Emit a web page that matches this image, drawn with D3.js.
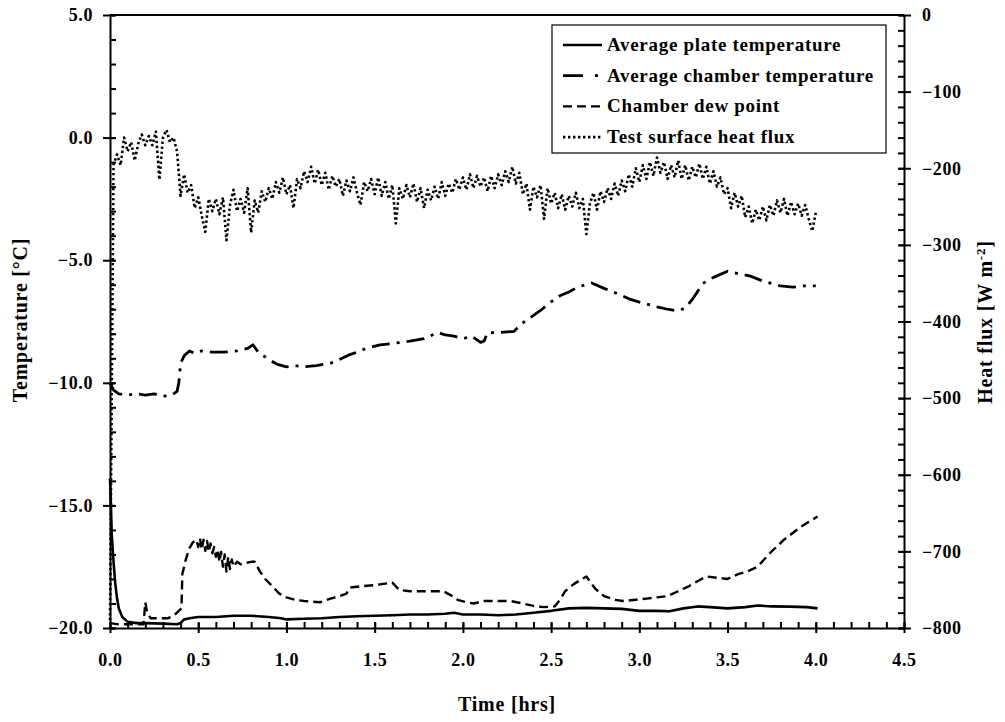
<!DOCTYPE html>
<html>
<head>
<meta charset="utf-8">
<script src="https://cdn.jsdelivr.net/npm/d3@7"></script>
<style>
  html, body { margin: 0; padding: 0; background: #fff; }
  svg text { font-family: "Liberation Serif", "Times New Roman", serif; font-weight: bold; fill: #000; }
</style>
</head>
<body>
<svg id="chart" width="1005" height="722"></svg>
<script>
// Plate temperature [°C] : [time hrs, value]
const plateTemp = [
  [0, -13.9], [0.005, -15.0], [0.01, -16.2], [0.02, -17.3], [0.03, -18.2], [0.04, -18.8],
  [0.05, -19.2], [0.07, -19.55], [0.1, -19.75], [0.15, -19.8], [0.2, -19.8], [0.3, -19.82],
  [0.38, -19.85], [0.4, -19.8], [0.42, -19.65], [0.45, -19.6], [0.5, -19.55], [0.6, -19.55],
  [0.7, -19.5], [0.8, -19.5], [0.9, -19.55], [0.97, -19.6], [1.0, -19.65], [1.1, -19.62],
  [1.2, -19.6], [1.3, -19.55], [1.4, -19.52], [1.5, -19.5], [1.6, -19.48], [1.7, -19.45],
  [1.8, -19.45], [1.9, -19.42], [1.95, -19.38], [2.0, -19.45], [2.1, -19.45], [2.2, -19.48],
  [2.3, -19.45], [2.4, -19.38], [2.5, -19.3], [2.6, -19.2], [2.7, -19.18], [2.8, -19.2],
  [2.9, -19.22], [3.0, -19.3], [3.1, -19.3], [3.17, -19.32], [3.25, -19.2], [3.33, -19.12],
  [3.4, -19.15], [3.5, -19.2], [3.6, -19.15], [3.67, -19.08], [3.75, -19.12], [3.85, -19.13],
  [3.95, -19.15], [4.01, -19.2]
];

// Chamber air temperature [°C]
const chamberTemp = [
  [0, -10.0], [0.02, -10.3], [0.05, -10.45], [0.1, -10.5], [0.15, -10.45], [0.2, -10.5],
  [0.25, -10.45], [0.3, -10.55], [0.35, -10.5], [0.38, -10.35], [0.39, -10.0], [0.40, -9.2],
  [0.42, -8.9], [0.45, -8.7], [0.48, -8.8], [0.52, -8.7], [0.58, -8.75], [0.65, -8.75],
  [0.72, -8.7], [0.78, -8.6], [0.81, -8.45], [0.84, -8.75], [0.9, -9.05], [0.95, -9.25],
  [1.0, -9.35], [1.05, -9.3], [1.1, -9.35], [1.17, -9.3], [1.25, -9.2], [1.3, -9.05],
  [1.36, -8.85], [1.4, -8.75], [1.45, -8.6], [1.53, -8.45], [1.6, -8.4], [1.7, -8.3],
  [1.78, -8.2], [1.86, -7.95], [1.9, -8.05], [1.95, -8.1], [2.0, -8.2], [2.05, -8.1],
  [2.1, -8.35], [2.12, -8.3], [2.14, -7.95], [2.2, -7.95], [2.29, -7.9], [2.33, -7.6],
  [2.38, -7.35], [2.44, -7.05], [2.5, -6.7], [2.55, -6.45], [2.6, -6.3], [2.65, -6.1],
  [2.73, -5.93], [2.8, -6.15], [2.87, -6.35], [2.95, -6.6], [3.02, -6.75], [3.1, -6.9],
  [3.16, -7.0], [3.22, -7.07], [3.26, -6.95], [3.3, -6.6], [3.36, -5.95], [3.42, -5.7],
  [3.5, -5.45], [3.56, -5.55], [3.63, -5.65], [3.7, -5.85], [3.8, -6.05], [3.87, -6.1],
  [3.93, -6.05], [4.0, -6.05]
];

// Chamber dew point [°C]
const dewPoint = [
  [0, -19.8], [0.05, -19.85], [0.1, -19.85], [0.19, -19.85], [0.2, -18.95], [0.21, -19.35],
  [0.23, -19.6], [0.28, -19.6], [0.33, -19.6], [0.36, -19.5], [0.39, -19.3], [0.405, -19.2],
  [0.41, -17.8], [0.43, -17.2], [0.45, -16.75], [0.47, -16.5], [0.49, -16.4], [0.5, -16.7],
  [0.51, -16.35], [0.52, -16.8], [0.53, -16.4], [0.54, -16.85], [0.55, -16.45], [0.56, -16.9],
  [0.57, -16.55], [0.58, -16.95], [0.59, -16.7], [0.6, -17.1], [0.61, -16.8], [0.62, -17.3],
  [0.63, -16.9], [0.64, -17.5], [0.65, -17.0], [0.66, -17.7], [0.67, -17.1], [0.68, -17.6],
  [0.69, -17.2], [0.7, -17.5], [0.72, -17.3], [0.74, -17.4], [0.77, -17.35], [0.8, -17.3],
  [0.82, -17.3], [0.85, -17.7], [0.88, -18.0], [0.92, -18.3], [0.96, -18.6], [1.0, -18.75],
  [1.05, -18.85], [1.1, -18.9], [1.19, -18.95], [1.25, -18.8], [1.3, -18.7], [1.34, -18.6],
  [1.36, -18.35], [1.42, -18.3], [1.5, -18.25], [1.6, -18.15], [1.64, -18.45], [1.7, -18.5],
  [1.8, -18.5], [1.89, -18.5], [1.94, -18.7], [1.97, -18.85], [2.02, -18.95], [2.06, -19.0],
  [2.12, -18.9], [2.2, -18.9], [2.27, -18.9], [2.34, -19.0], [2.4, -19.1], [2.46, -19.15],
  [2.52, -19.12], [2.55, -18.85], [2.58, -18.5], [2.63, -18.2], [2.7, -17.9], [2.72, -18.1],
  [2.75, -18.4], [2.8, -18.7], [2.86, -18.85], [2.91, -18.9], [2.98, -18.85], [3.04, -18.8],
  [3.1, -18.75], [3.16, -18.7], [3.22, -18.5], [3.28, -18.3], [3.34, -18.05], [3.38, -17.9],
  [3.44, -17.95], [3.5, -18.0], [3.56, -17.8], [3.61, -17.7], [3.67, -17.5], [3.74, -16.95],
  [3.82, -16.4], [3.91, -15.9], [4.01, -15.45]
];

// Test surface heat flux [W m-2], logged every 0.02 hr from t = 0
const fluxStep = 0.02;
const heatFlux = [
  -790, -195, -182, -196, -160, -178, -166, -190, -168, -156,
  -170, -158, -170, -152, -215, -160, -150, -166, -160, -178,
  -236, -208, -232, -222, -252, -238, -262, -283, -240, -256,
  -240, -260, -238, -294, -248, -228, -256, -240, -258, -226,
  -284, -242, -258, -230, -244, -226, -240, -218, -232, -212,
  -234, -222, -252, -214, -226, -204, -218, -198, -220, -202,
  -222, -206, -228, -210, -224, -214, -236, -216, -230, -212,
  -232, -248, -218, -230, -214, -234, -212, -236, -218, -240,
  -222, -272, -226, -240, -222, -238, -220, -244, -226, -252,
  -228, -242, -224, -240, -218, -236, -220, -232, -214, -228,
  -212, -228, -208, -226, -210, -224, -212, -230, -210, -226,
  -208, -222, -204, -218, -198, -220, -206, -234, -220, -254,
  -224, -238, -222, -266, -226, -246, -232, -252, -234, -254,
  -236, -250, -232, -252, -240, -286, -246, -232, -254, -230,
  -244, -226, -240, -220, -236, -216, -230, -208, -224, -200,
  -218, -196, -214, -192, -210, -186, -206, -192, -214, -196,
  -212, -190, -214, -196, -216, -198, -212, -194, -214, -198,
  -220, -204, -224, -212, -234, -226, -252, -232, -250, -236,
  -264, -250, -272, -254, -268, -250, -268, -248, -262, -242,
  -258, -240, -262, -244, -260, -246, -262, -248, -266, -282,
  -258
];

const xTicks = [0, 0.5, 1, 1.5, 2, 2.5, 3, 3.5, 4, 4.5];
const xMinorTicks = d3.range(0, 46).map(i => i / 10);
const leftTicks = [-20, -15, -10, -5, 0, 5];
const leftMinorTicks = d3.range(-20, 6);
const rightTicks = [-800, -700, -600, -500, -400, -300, -200, -100, 0];
const rightMinorTicks = d3.range(-800, 1, 20);

const legendLabels = [
  "Average plate temperature",
  "Average chamber temperature",
  "Chamber dew point",
  "Test surface heat flux"
];

const svg = d3.select("#chart");
const x = d3.scaleLinear().domain([0, 4.5]).range([110, 904]);
const yL = d3.scaleLinear().domain([-20, 5]).range([628, 15]);
const yR = d3.scaleLinear().domain([-800, 0]).range([628, 15]);

const styles = {
  plate:   { width: 2.6, dash: null },
  chamber: { width: 2.8, dash: "18,7,3,7" },
  dew:     { width: 2.4, dash: "9,5" },
  flux:    { width: 2.6, dash: "2.4,2.6" }
};

// Series
const lineL = d3.line().x(d => x(d[0])).y(d => yL(d[1]));
const lineFlux = d3.line().x((d, i) => x(i * fluxStep)).y(d => yR(d));

const plot = svg.append("g");
function drawSeries(data, gen, st) {
  const p = plot.append("path").datum(data)
    .attr("d", gen)
    .attr("fill", "none")
    .attr("stroke", "#000")
    .attr("stroke-width", st.width)
    .attr("stroke-linejoin", "round");
  if (st.dash) p.attr("stroke-dasharray", st.dash);
}
drawSeries(heatFlux, lineFlux, styles.flux);
drawSeries(dewPoint, lineL, styles.dew);
drawSeries(chamberTemp, lineL, styles.chamber);
drawSeries(plateTemp, lineL, styles.plate);

// Frame top line
svg.append("line").attr("x1", 110).attr("x2", 904).attr("y1", 15).attr("y2", 15)
  .attr("stroke", "#000").attr("stroke-width", 2);

function styleAxis(g) {
  g.selectAll("path.domain").attr("stroke", "#000").attr("stroke-width", 2);
  g.selectAll(".tick line").attr("stroke", "#000").attr("stroke-width", 2);
  g.selectAll(".tick text").attr("font-size", 18)
    .attr("font-family", "'Liberation Serif', 'Times New Roman', serif")
    .attr("font-weight", "bold").attr("letter-spacing", 0.6);
}

// Bottom axis
const gxMinor = svg.append("g").attr("transform", `translate(0,${yL(-20)})`)
  .call(d3.axisBottom(x).tickValues(xMinorTicks).tickSize(-6).tickFormat(""));
gxMinor.select("path.domain").remove();
styleAxis(gxMinor);
const gx = svg.append("g").attr("transform", `translate(0,${yL(-20)})`)
  .call(d3.axisBottom(x).tickValues(xTicks).tickSize(5).tickSizeOuter(0).tickPadding(20)
    .tickFormat(d3.format(".1f")));
gx.selectAll(".tick line").attr("y1", -5);
styleAxis(gx);

// Left axis
const gyMinor = svg.append("g").attr("transform", `translate(${x(0)},0)`)
  .call(d3.axisLeft(yL).tickValues(leftMinorTicks).tickSize(-6).tickFormat(""));
gyMinor.select("path.domain").remove();
styleAxis(gyMinor);
const gy = svg.append("g").attr("transform", `translate(${x(0)},0)`)
  .call(d3.axisLeft(yL).tickValues(leftTicks).tickSize(7).tickSizeOuter(0).tickPadding(10)
    .tickFormat(d3.format(".1f")));
gy.selectAll(".tick line").attr("x1", 5);
styleAxis(gy);

// Right axis
const grMinor = svg.append("g").attr("transform", `translate(${x(4.5)},0)`)
  .call(d3.axisRight(yR).tickValues(rightMinorTicks).tickSize(-6).tickFormat(""));
grMinor.select("path.domain").remove();
styleAxis(grMinor);
const gr = svg.append("g").attr("transform", `translate(${x(4.5)},0)`)
  .call(d3.axisRight(yR).tickValues(rightTicks).tickSize(7).tickSizeOuter(0).tickPadding(11)
    .tickFormat(d3.format("d")));
gr.selectAll(".tick line").attr("x1", -5);
styleAxis(gr);

// Axis titles
svg.append("text").attr("transform", "translate(27,320) rotate(-90)")
  .attr("text-anchor", "middle").attr("font-size", 20).attr("letter-spacing", 0.8)
  .text("Temperature [°C]");
svg.append("text").attr("x", 507).attr("y", 711)
  .attr("text-anchor", "middle").attr("font-size", 20).attr("letter-spacing", 0.8)
  .text("Time [hrs]");
const rt = svg.append("text").attr("transform", "translate(992,322) rotate(-90)")
  .attr("text-anchor", "middle").attr("font-size", 20).attr("letter-spacing", 0.8);
rt.append("tspan").text("Heat flux [W m");
rt.append("tspan").attr("dy", -7).attr("font-size", 13).text("-2");
rt.append("tspan").attr("dy", 7).text("]");

// Legend
const lg = svg.append("g");
lg.append("rect").attr("x", 552).attr("y", 25).attr("width", 334).attr("height", 128)
  .attr("fill", "#fff").attr("stroke", "#000").attr("stroke-width", 1.2);
const legendStyles = [styles.plate, styles.chamber, styles.dew, styles.flux];
legendLabels.forEach((lab, i) => {
  const yy = 45 + i * 30.7;
  const st = legendStyles[i];
  const l = lg.append("line").attr("x1", 563).attr("x2", 602).attr("y1", yy).attr("y2", yy)
    .attr("stroke", "#000").attr("stroke-width", st.width);
  if (st.dash) l.attr("stroke-dasharray", i === 1 ? "20,12,3,20" : st.dash);
  lg.append("text").attr("x", 607).attr("y", yy + 6).attr("font-size", 19)
    .attr("letter-spacing", 0.7).text(lab);
});
</script>
</body>
</html>
